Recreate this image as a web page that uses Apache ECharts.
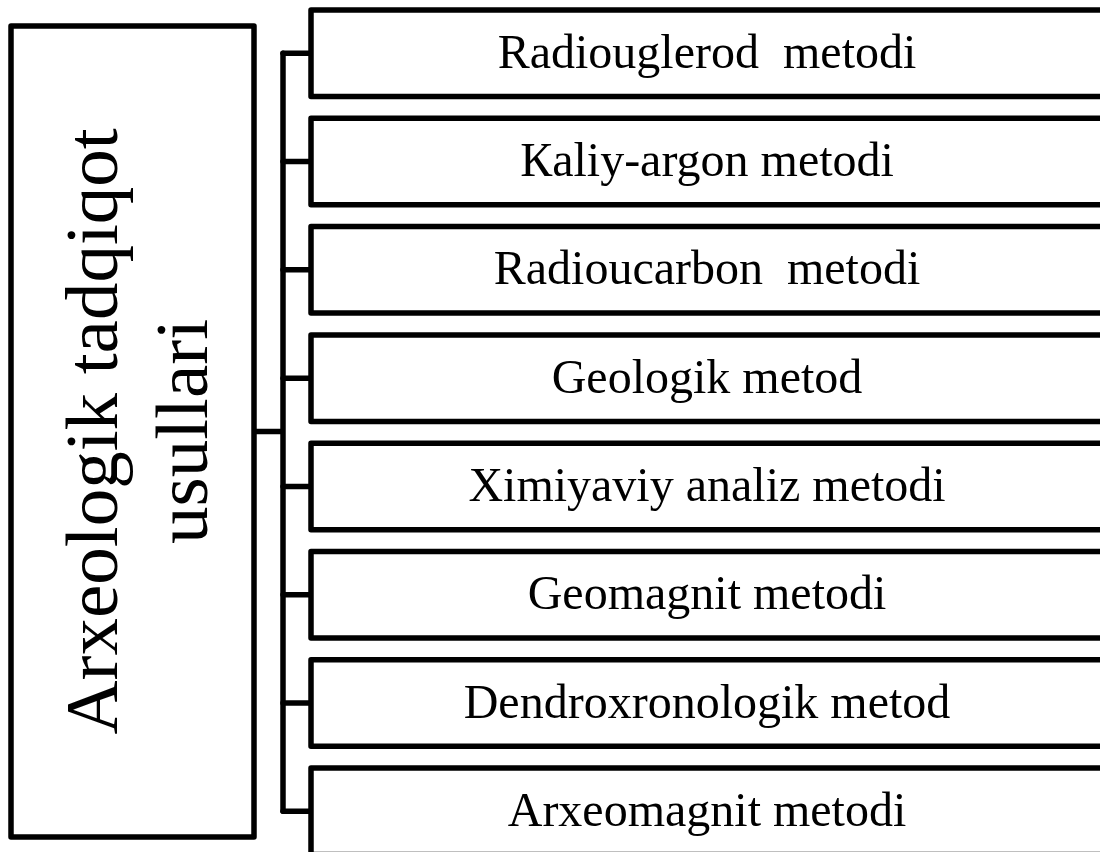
<!DOCTYPE html>
<html>
<head>
<meta charset="utf-8">
<script src="https://cdn.jsdelivr.net/npm/echarts@6/dist/echarts.min.js"></script>
<style>
html,body{margin:0;padding:0;background:#fff;}
#chart{width:1100px;height:852px;}
</style>
</head>
<body>
<div id="chart"></div>
<script>
// ---- content ----
const rootLines = ["Arxeologik tadqiqot", "usullari"];
const methods = [
  "Radiouglerod  metodi",
  "Кaliy-argon metodi",
  "Radioucarbon  metodi",
  "Geologik metod",
  "Ximiyaviy analiz metodi",
  "Geomagnit metodi",
  "Dendroxronologik metod",
  "Arxeomagnit metodi"
];

// ---- layout (pixel-like coordinate space of the axes) ----
const W = 1100, H = 852;
const ROOT = {x0: 11, y0: 26, x1: 254, y1: 837};
const ROOT_TEXT_X = 142;
const BUS_X = 283;
const BOX_X0 = 311, BOX_X1 = 1103;
const BOX_TOP0 = 10, BOX_PITCH = 108.3, BOX_H = 86.5;
const LW = 5.5;
const FONT = "'Liberation Serif', 'Times New Roman', serif";

function boxTop(i){ return BOX_TOP0 + i * BOX_PITCH; }
function boxMid(i){ return boxTop(i) + BOX_H / 2; }

const chart = echarts.init(document.getElementById('chart'), null, {renderer: 'canvas'});

const option = {
  backgroundColor: '#ffffff',
  animation: false,
  grid: {left: 0, right: 0, top: 0, bottom: 0},
  xAxis: {type: 'value', min: 0, max: W, show: false},
  yAxis: {type: 'value', min: 0, max: H, inverse: true, show: false},
  series: [
    {
      // root box
      type: 'custom',
      data: [[0]],
      renderItem: function (params, api) {
        const p0 = api.coord([ROOT.x0, ROOT.y0]);
        const p1 = api.coord([ROOT.x1, ROOT.y1]);
        const c = api.coord([ROOT_TEXT_X, (ROOT.y0 + ROOT.y1) / 2]);
        return {
          type: 'group',
          children: [
            {
              type: 'rect',
              shape: {x: p0[0], y: p0[1], width: p1[0] - p0[0], height: p1[1] - p0[1]},
              style: {fill: '#fff', stroke: '#000', lineWidth: LW, lineJoin: 'round'}
            },
            {
              type: 'text',
              x: c[0], y: c[1],
              rotation: Math.PI / 2,
              style: {
                text: rootLines.join('\n'),
                font: '75px ' + FONT,
                fill: '#000',
                align: 'center',
                verticalAlign: 'middle',
                lineHeight: 90
              }
            }
          ]
        };
      }
    },
    {
      // connectors
      type: 'custom',
      data: [[0]],
      renderItem: function (params, api) {
        const children = [];
        const a = api.coord([BUS_X, boxMid(0)]);
        const b = api.coord([BUS_X, boxMid(methods.length - 1)]);
        children.push({type: 'line', shape: {x1: a[0], y1: a[1], x2: b[0], y2: b[1]},
          style: {stroke: '#000', lineWidth: LW, lineCap: 'round'}});
        const r0 = api.coord([ROOT.x1, (ROOT.y0 + ROOT.y1) / 2]);
        const r1 = api.coord([BUS_X, (ROOT.y0 + ROOT.y1) / 2]);
        children.push({type: 'line', shape: {x1: r0[0], y1: r0[1], x2: r1[0], y2: r1[1]},
          style: {stroke: '#000', lineWidth: LW, lineCap: 'butt'}});
        methods.forEach(function (m, i) {
          const s0 = api.coord([BUS_X, boxMid(i)]);
          const s1 = api.coord([BOX_X0, boxMid(i)]);
          children.push({type: 'line', shape: {x1: s0[0], y1: s0[1], x2: s1[0], y2: s1[1]},
            style: {stroke: '#000', lineWidth: LW, lineCap: 'round'}});
        });
        return {type: 'group', children: children};
      }
    },
    {
      // method boxes
      type: 'custom',
      data: methods.map(function (m, i) { return [i]; }),
      renderItem: function (params, api) {
        const i = api.value(0);
        const p0 = api.coord([BOX_X0, boxTop(i)]);
        const p1 = api.coord([BOX_X1, boxTop(i) + BOX_H]);
        return {
          type: 'rect',
          shape: {x: p0[0], y: p0[1], width: p1[0] - p0[0], height: p1[1] - p0[1]},
          style: {fill: '#fff', stroke: '#000', lineWidth: LW, lineJoin: 'round'},
          textContent: {
            style: {
              text: methods[i],
              font: '48px ' + FONT,
              fill: '#000'
            }
          },
          textConfig: {position: 'inside', offset: [0, 2]}
        };
      }
    }
  ]
};

chart.setOption(option);
</script>
</body>
</html>
